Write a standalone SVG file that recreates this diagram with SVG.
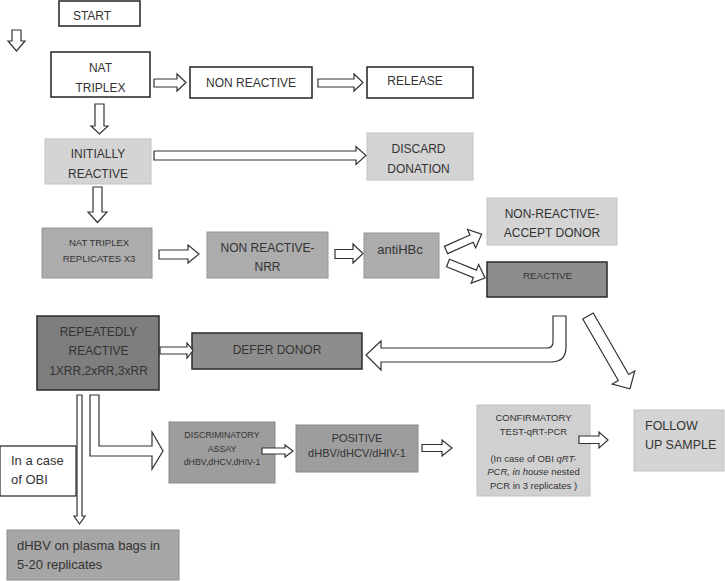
<svg xmlns="http://www.w3.org/2000/svg" width="725" height="581" viewBox="0 0 725 581">
<style>
text{font-family:"Liberation Sans",Arial,sans-serif;fill:#333;font-size:12px}
.c{text-anchor:middle}
.w{fill:#fff;stroke:#222;stroke-width:1.5}
.l{fill:#d4d4d4;stroke:#c2c2c2;stroke-width:1}
.m{fill:#acacac;stroke:#969696;stroke-width:1}
.d{fill:#9d9d9d;stroke:#8a8a8a;stroke-width:1}
.k{fill:#8d8d8d;stroke:#2a2a2a;stroke-width:1.5}
.kk{fill:#7e7e7e;stroke:#2a2a2a;stroke-width:1.5}
.a{fill:#fff;stroke:#333;stroke-width:1.2;stroke-linejoin:miter}
</style>
<rect width="725" height="581" fill="#fff"/>
<g id="start"><rect class="w" x="59" y="1" width="81" height="25"/><text x="92" y="20" class="c">START</text></g>
<g id="nat"><rect class="w" x="51" y="52" width="99" height="45"/><text x="100.5" y="71.5" class="c">NAT</text><text x="100.5" y="91.5" class="c">TRIPLEX</text></g>
<g id="nonreactive"><rect class="w" x="190" y="67" width="122" height="31"/><text x="251" y="87" class="c">NON REACTIVE</text></g>
<g id="release"><rect class="w" x="367" y="67" width="106" height="31"/><text x="415" y="85" class="c">RELEASE</text></g>
<g id="initially"><rect class="l" x="45" y="139" width="106" height="45"/><text x="98" y="158" class="c">INITIALLY</text><text x="98" y="178" class="c">REACTIVE</text></g>
<g id="discard"><rect class="l" x="367" y="133" width="106" height="47"/><text x="418.5" y="153" class="c">DISCARD</text><text x="418.5" y="173" class="c">DONATION</text></g>
<g id="replicates"><rect class="m" x="42" y="228" width="110" height="50"/><text x="99" y="245.5" class="c" style="font-size:9.5px">NAT TRIPLEX</text><text x="99" y="261.5" class="c" style="font-size:9.5px">REPLICATES X3</text></g>
<g id="nrr"><rect class="m" x="207" y="232" width="121" height="46"/><text x="267.5" y="252" class="c">NON REACTIVE-</text><text x="267.5" y="271" class="c">NRR</text></g>
<g id="antihbc"><rect class="m" x="364" y="233" width="75" height="45"/><text x="400" y="254" class="c" style="font-size:13px">antiHBc</text></g>
<g id="accept"><rect class="l" x="487" y="198" width="130" height="47"/><text x="552" y="217.5" class="c">NON-REACTIVE-</text><text x="552" y="237" class="c">ACCEPT DONOR</text></g>
<g id="reactive"><rect class="k" x="487" y="262" width="120" height="35"/><text x="547.5" y="279" class="c" style="font-size:9.8px">REACTIVE</text></g>
<g id="repeatedly"><rect class="kk" x="37" y="316" width="122" height="74"/><text x="98.5" y="336" class="c" style="font-size:12px">REPEATEDLY</text><text x="98.5" y="355" class="c" style="font-size:12px">REACTIVE</text><text x="98.5" y="374.5" class="c" style="font-size:12px">1XRR,2xRR,3xRR</text></g>
<g id="defer"><rect class="k" x="192" y="333" width="170" height="36"/><text x="277" y="353.5" class="c">DEFER DONOR</text></g>
<g id="obi"><rect class="w" x="0" y="446" width="76" height="50" style="stroke-width:1.2"/><text x="11" y="465" style="font-size:13px">In a case</text><text x="11" y="484" style="font-size:13px">of OBI</text></g>
<g id="plasma"><rect class="d" x="7" y="530" width="172" height="50" style="fill:#a6a6a6"/><text x="17" y="550" style="font-size:13px">dHBV on plasma bags in</text><text x="17" y="569" style="font-size:13px">5-20 replicates</text></g>
<g id="discriminatory"><rect class="d" x="169" y="422" width="106" height="61"/><text x="222" y="438" class="c" style="font-size:8.8px">DISCRIMINATORY</text><text x="222" y="451.5" class="c" style="font-size:8.8px">ASSAY</text><text x="222" y="465" class="c" style="font-size:8.8px">dHBV,dHCV,dHIV-1</text></g>
<g id="positive"><rect class="d" x="296" y="425" width="122" height="47"/><text x="357" y="441.5" class="c" style="font-size:11px">POSITIVE</text><text x="357" y="456.5" class="c" style="font-size:11px">dHBV/dHCV/dHIV-1</text></g>
<g id="confirmatory"><rect class="l" x="477" y="405" width="113" height="91" style="fill:#d0d0d0"/><text x="533.5" y="421" class="c" style="font-size:9.5px">CONFIRMATORY</text><text x="533.5" y="434.5" class="c" style="font-size:9.5px">TEST-qRT-PCR</text><text x="533.5" y="461.5" class="c" style="font-size:9.5px">(In case of OBI <tspan font-style="italic">qRT-</tspan></text><text x="533.5" y="475" class="c" style="font-size:9.5px"><tspan font-style="italic">PCR, in house</tspan> nested</text><text x="533.5" y="489" class="c" style="font-size:9.5px">PCR in 3 replicates )</text></g>
<g id="followup"><rect class="l" x="634" y="410" width="90" height="61"/><text x="645" y="430" style="font-size:12.5px">FOLLOW</text><text x="645" y="449" style="font-size:12.5px">UP SAMPLE</text></g>
<g id="connectors">
<polygon class="a" points="12,30 21,30 21,41 25,41 16.5,51 8,41 12,41"/>
<polygon class="a" points="154,79 177,79 177,74 186,82.5 177,91 177,87 154,87"/>
<polygon class="a" points="318,79 354,79 354,74 363,82.5 354,91 354,87 318,87"/>
<polygon class="a" points="95,104 104,104 104,126 108,126 99.5,134 91,126 95,126"/>
<polygon class="a" points="154,151 356,151 356,146.5 366,155.5 356,164.5 356,160 154,160"/>
<polygon class="a" points="93,187 102,187 102,212 107,212 97.5,222.5 88,212 93,212"/>
<polygon class="a" points="159,250 188,250 188,245 199,254 188,263 188,259 159,259"/>
<polygon class="a" points="335,249.5 353,249.5 353,244 363,253.5 353,263 353,258.5 335,258.5"/>
<polygon class="a" transform="translate(446,250) rotate(-24)" points="0,-4 28,-4 28,-10 39,0 28,10 28,4 0,4"/>
<polygon class="a" transform="translate(448,263) rotate(22)" points="0,-4 29,-4 29,-10 40,0 29,10 29,4 0,4"/>
<path class="a" d="M553,316 L566,316 L566,347 Q566,362 551,362 L381,362 L381,370 L366,355 L381,341 L381,348 L547,348 Q553,348 553,342 Z"/>
<polygon class="a" transform="translate(588,316) rotate(60)" points="0,-6 71,-6 71,-13 84,0 71,13 71,6 0,6"/>
<polygon class="a" points="160,347 187,347 187,343 193,350.5 187,358 187,354 160,354"/>
<polygon class="a" points="77,395 82,395 82,516 85,516 79.5,524 74,516 77,516"/>
<polygon class="a" points="90,395 99,395 99,446 152,446 152,432 163,451 152,469 152,456 90,456"/>
<polygon class="a" points="262,448 285,448 285,445 293,451 285,457 285,454 262,454"/>
<polygon class="a" points="422,444.5 442,444.5 442,440 452,448 442,456 442,451.5 422,451.5"/>
<polygon class="a" points="579,436 599,436 599,432 608,440 599,448 599,443.5 579,443.5"/>
</g>
</svg>
